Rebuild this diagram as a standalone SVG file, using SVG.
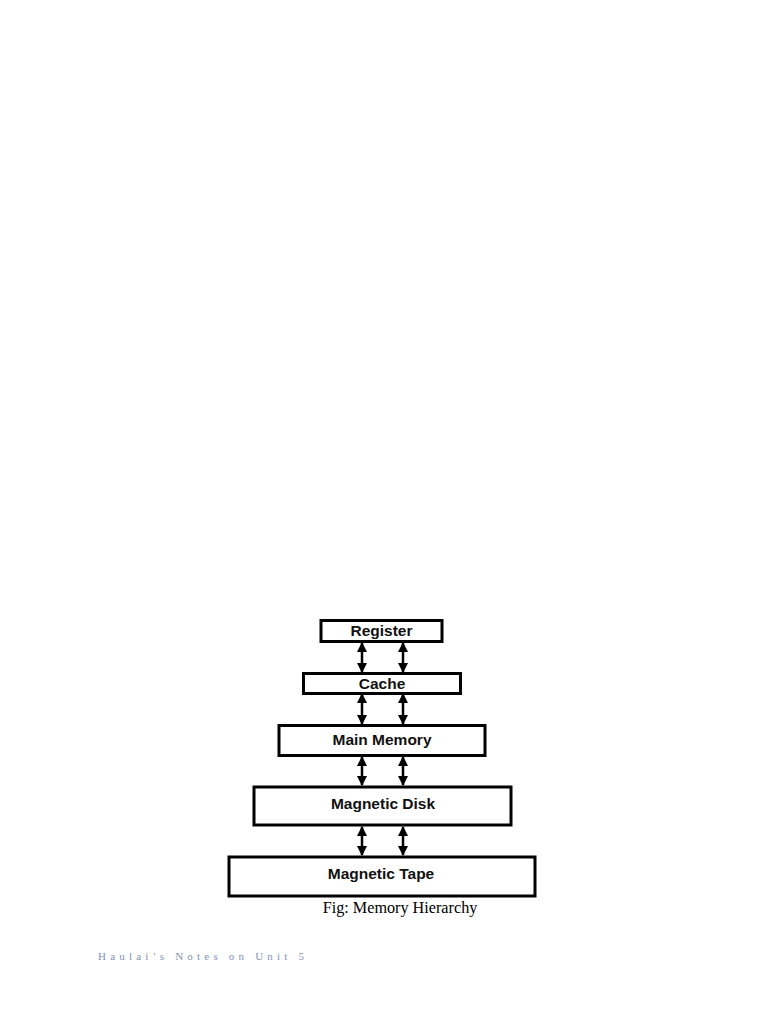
<svg xmlns="http://www.w3.org/2000/svg" width="768" height="1024" viewBox="0 0 768 1024">
<style>
.box{fill:#fff;stroke:#000;stroke-width:3}
.lbl{font-family:"Liberation Sans",Arial,sans-serif;font-weight:bold;font-size:15.5px;text-anchor:middle;fill:#111}
.con line{stroke:#000;stroke-width:2.5}
</style>
<defs>
<marker id="ah" viewBox="0 0 10 10" refX="9" refY="5" markerWidth="4.2" markerHeight="4.2" orient="auto-start-reverse" markerUnits="strokeWidth">
<path d="M0,0 L10,5 L0,10 z" fill="#000"/>
</marker>
</defs>
<rect width="768" height="1024" fill="#fff"/>
<g class="con">
<line x1="362" y1="643" x2="362" y2="672" marker-start="url(#ah)" marker-end="url(#ah)"/>
<line x1="403" y1="643" x2="403" y2="672" marker-start="url(#ah)" marker-end="url(#ah)"/>
<line x1="362" y1="694" x2="362" y2="724" marker-start="url(#ah)" marker-end="url(#ah)"/>
<line x1="403" y1="694" x2="403" y2="724" marker-start="url(#ah)" marker-end="url(#ah)"/>
<line x1="362" y1="757" x2="362" y2="785" marker-start="url(#ah)" marker-end="url(#ah)"/>
<line x1="403" y1="757" x2="403" y2="785" marker-start="url(#ah)" marker-end="url(#ah)"/>
<line x1="362" y1="827" x2="362" y2="855" marker-start="url(#ah)" marker-end="url(#ah)"/>
<line x1="403" y1="827" x2="403" y2="855" marker-start="url(#ah)" marker-end="url(#ah)"/>
</g>
<g id="register"><rect class="box" x="321" y="620.5" width="121" height="21"/><text class="lbl" x="381.5" y="636">Register</text></g>
<g id="cache"><rect class="box" x="303.5" y="673.5" width="157" height="20"/><text class="lbl" x="382" y="688.5">Cache</text></g>
<g id="main-memory"><rect class="box" x="279" y="725.5" width="206" height="30"/><text class="lbl" x="382" y="745">Main Memory</text></g>
<g id="magnetic-disk"><rect class="box" x="254" y="787" width="257" height="38"/><text class="lbl" x="383" y="809">Magnetic Disk</text></g>
<g id="magnetic-tape"><rect class="box" x="229" y="857" width="306" height="39"/><text class="lbl" x="381" y="879">Magnetic Tape</text></g>
<text x="400" y="913" font-family="Liberation Serif,'Times New Roman',serif" font-size="16.2" text-anchor="middle" fill="#000">Fig: Memory Hierarchy</text>
<text x="98" y="960" font-family="Liberation Serif,'Times New Roman',serif" font-size="11" letter-spacing="4.2" fill="#7f93bd">Haulai’s Notes on Unit 5</text>
</svg>
